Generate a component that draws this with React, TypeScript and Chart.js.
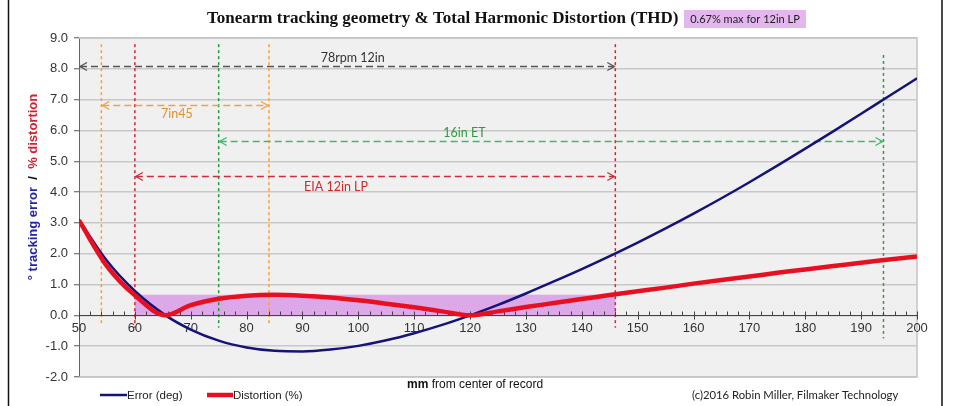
import React, { useEffect, useRef } from 'react';
import { Chart, registerables } from 'chart.js';

Chart.register(...registerables);

// ---- data ----
const radiusMm = [50, 55, 60, 65.5, 70, 75, 80, 85, 90, 95, 100, 105, 110, 115, 120, 125, 130, 135, 140, 145, 150, 155, 160, 165, 170, 175, 180, 185, 190, 195, 200];
const errorDeg = [3.1, 1.77, 0.79, 0, -0.46, -0.82, -1.04, -1.15, -1.17, -1.11, -0.99, -0.81, -0.58, -0.31, 0, 0.34, 0.71, 1.1, 1.5, 1.92, 2.36, 2.82, 3.3, 3.8, 4.32, 4.86, 5.41, 5.97, 6.54, 7.12, 7.69];
const distortionPct = [3.08, 1.6, 0.65, 0, 0.33, 0.54, 0.64, 0.67, 0.64, 0.58, 0.49, 0.38, 0.26, 0.13, 0, 0.13, 0.27, 0.4, 0.53, 0.66, 0.78, 0.9, 1.03, 1.15, 1.26, 1.38, 1.49, 1.6, 1.71, 1.81, 1.91];

const xTickLabels = [50, 60, 70, 80, 90, 100, 110, 120, 130, 140, 150, 160, 170, 180, 190, 200];
const yMin = -2;
const yMax = 9;

const thdMaxPct = 0.67;
const lpStartMm = 60;
const lpEndMm = 146;

const rangeLabels = ['78rpm 12in', '7in45', '16in ET', 'EIA 12in LP'];
const rangeStartMm = [50, 54, 75, 60];
const rangeEndMm = [146, 84, 194, 146];
const rangeArrowLevel = [8.1, 6.82, 5.66, 4.52];

const markerMm = [54, 84, 60, 146, 75, 194];
const markerTop = [8.8, 8.8, 8.8, 8.8, 8.8, 8.45];
const markerBottom = [-0.35, -0.35, -0.4, -0.4, -0.4, -0.75];

// ---- styles ----
const SANS = '"Liberation Sans", Arial, sans-serif';
const LATO = 'Lato, "Open Sans", sans-serif';
const rangeArrowColor = ['#555555', '#f0a24a', '#3dba6a', '#c4303e'];
const rangeTextColor = ['#333333', '#e0902e', '#2f9a3e', '#d22a2a'];
const rangeLabelMm = [99, 67.5, 119, 96];
const rangeLabelDy = [-9, 8, -9, 10];
const markerColor = ['#f5a040', '#f5a040', '#c8283a', '#c8283a', '#22993a', '#2fa045'];

function arrowHead(ctx: CanvasRenderingContext2D, x: number, y: number, dir: number) {
  ctx.beginPath();
  ctx.moveTo(x - dir * 7, y - 4);
  ctx.lineTo(x, y);
  ctx.lineTo(x - dir * 7, y + 4);
  ctx.stroke();
}

const decorPlugin = {
  id: 'decor',
  beforeDraw(chart: any) {
    const { ctx, chartArea: a } = chart;
    ctx.save();
    ctx.fillStyle = '#ffffff';
    ctx.fillRect(0, 0, chart.width, chart.height);
    ctx.fillStyle = '#f0f0f0';
    ctx.fillRect(a.left, a.top, a.right - a.left, a.bottom - a.top);
    ctx.restore();
  },
  beforeDatasetsDraw(chart: any) {
    const { ctx, chartArea: a } = chart;
    const x = chart.scales.x;
    const y = chart.scales.y;
    ctx.save();
    // plot frame
    ctx.strokeStyle = '#c4c4c4';
    ctx.lineWidth = 1.5;
    ctx.beginPath();
    ctx.moveTo(a.left, a.top);
    ctx.lineTo(a.right, a.top);
    ctx.lineTo(a.right, a.bottom);
    ctx.lineTo(a.left, a.bottom);
    ctx.stroke();

    // LP distortion band
    const bx0 = x.getPixelForValue(lpStartMm);
    const bx1 = x.getPixelForValue(lpEndMm);
    const by0 = y.getPixelForValue(0);
    const by1 = y.getPixelForValue(thdMaxPct);
    ctx.fillStyle = '#dca8e8';
    ctx.fillRect(bx0, by1, bx1 - bx0, by0 - by1);

    // vertical markers
    ctx.lineWidth = 1.5;
    ctx.setLineDash([3, 3]);
    markerMm.forEach((m, i) => {
      const px = x.getPixelForValue(m);
      ctx.strokeStyle = markerColor[i];
      ctx.beginPath();
      ctx.moveTo(px, y.getPixelForValue(markerTop[i]));
      ctx.lineTo(px, y.getPixelForValue(markerBottom[i]));
      ctx.stroke();
    });

    // range arrows
    rangeLabels.forEach((label, i) => {
      const x0 = x.getPixelForValue(rangeStartMm[i]);
      const x1 = x.getPixelForValue(rangeEndMm[i]);
      const py = Math.round(y.getPixelForValue(rangeArrowLevel[i])) + 0.5;
      ctx.strokeStyle = rangeArrowColor[i];
      ctx.lineWidth = 1.3;
      ctx.setLineDash([7, 4]);
      ctx.beginPath();
      ctx.moveTo(x0 + 1, py);
      ctx.lineTo(x1 - 1, py);
      ctx.stroke();
      ctx.setLineDash([]);
      arrowHead(ctx, x0 + 1, py, -1);
      arrowHead(ctx, x1 - 1, py, 1);
      ctx.fillStyle = rangeTextColor[i];
      ctx.font = `12.5px ${LATO}`;
      ctx.textAlign = 'center';
      ctx.textBaseline = 'middle';
      ctx.fillText(label, x.getPixelForValue(rangeLabelMm[i]), py + rangeLabelDy[i]);
    });

    // x axis at y = 0 with ticks and labels
    const y0 = Math.round(y.getPixelForValue(0)) + 0.5;
    ctx.setLineDash([]);
    ctx.strokeStyle = '#444444';
    ctx.lineWidth = 1;
    ctx.beginPath();
    ctx.moveTo(a.left, y0);
    ctx.lineTo(a.right, y0);
    ctx.stroke();
    ctx.beginPath();
    for (let m = 50; m <= 200; m += 2) {
      const px = Math.round(x.getPixelForValue(m)) + 0.5;
      const major = m % 10 === 0;
      ctx.moveTo(px, y0 - 4);
      ctx.lineTo(px, y0 + (major ? 4 : 0));
    }
    ctx.stroke();
    ctx.fillStyle = '#333333';
    ctx.font = `13px ${SANS}`;
    ctx.textAlign = 'center';
    ctx.textBaseline = 'middle';
    xTickLabels.forEach((v) => {
      ctx.fillText(String(v), x.getPixelForValue(v), y0 + 13);
    });
    ctx.restore();
  },
  afterDraw(chart: any) {
    const { ctx } = chart;
    ctx.save();
    // title
    ctx.fillStyle = '#111111';
    ctx.font = 'bold 17px "Liberation Serif", "Times New Roman", serif';
    ctx.textAlign = 'left';
    ctx.textBaseline = 'middle';
    ctx.fillText('Tonearm tracking geometry & Total Harmonic Distortion (THD)', 207, 19);
    // badge
    ctx.fillStyle = '#e4b6ee';
    ctx.fillRect(684, 10, 122, 18);
    ctx.fillStyle = '#222222';
    ctx.font = `11px ${LATO}`;
    ctx.textAlign = 'center';
    ctx.fillText('0.67% max for 12in LP', 745, 19.5);

    // y title (multi-coloured, rotated)
    ctx.save();
    ctx.translate(33, 187);
    ctx.rotate(-Math.PI / 2);
    ctx.font = `bold 13px ${SANS}`;
    ctx.textAlign = 'left';
    ctx.textBaseline = 'middle';
    const parts: [string, string][] = [
      ['° tracking error', '#2424a8'],
      ['  /  ', '#111111'],
      ['% distortion', '#d4202e'],
    ];
    const total = parts.reduce((s, p) => s + ctx.measureText(p[0]).width, 0);
    let cx = -total / 2;
    parts.forEach(([t, c]) => {
      ctx.fillStyle = c;
      ctx.fillText(t, cx, 0);
      cx += ctx.measureText(t).width;
    });
    ctx.restore();

    // x title
    ctx.textBaseline = 'middle';
    ctx.textAlign = 'left';
    ctx.fillStyle = '#111111';
    ctx.font = `bold 12px ${SANS}`;
    const mmW = ctx.measureText('mm').width;
    ctx.fillText('mm', 407, 385);
    ctx.font = `12px ${SANS}`;
    ctx.fillText(' from center of record', 407 + mmW, 385);

    // legend
    ctx.lineCap = 'butt';
    ctx.strokeStyle = '#141478';
    ctx.lineWidth = 2.5;
    ctx.beginPath();
    ctx.moveTo(100, 395);
    ctx.lineTo(127, 395);
    ctx.stroke();
    ctx.strokeStyle = '#e81020';
    ctx.lineWidth = 4.5;
    ctx.beginPath();
    ctx.moveTo(207, 395);
    ctx.lineTo(233, 395);
    ctx.stroke();
    ctx.fillStyle = '#222222';
    ctx.font = `11.5px ${SANS}`;
    ctx.fillText('Error (deg)', 127, 395.5);
    ctx.fillText('Distortion (%)', 233, 395.5);

    // credit
    ctx.font = `11.3px ${LATO}`;
    ctx.fillStyle = '#222222';
    ctx.fillText('(c)2016 Robin Miller, Filmaker Technology', 692, 395);

    // outer frame lines
    ctx.strokeStyle = '#111111';
    ctx.lineWidth = 1.5;
    ctx.beginPath();
    ctx.moveTo(8.5, 0);
    ctx.lineTo(8.5, chart.height);
    ctx.moveTo(942, 0);
    ctx.lineTo(942, chart.height);
    ctx.stroke();
    ctx.restore();
  },
};

export default function App() {
  const canvasRef = useRef<HTMLCanvasElement>(null);

  useEffect(() => {
    if (!canvasRef.current) return;
    const chart = new Chart(canvasRef.current, {
      type: 'line',
      data: {
        datasets: [
          {
            label: 'Distortion (%)',
            data: radiusMm.map((r, i) => ({ x: r, y: distortionPct[i] })),
            borderColor: '#e81020',
            borderWidth: 4.5,
            pointRadius: 0,
            cubicInterpolationMode: 'monotone',
            order: 0,
          },
          {
            label: 'Error (deg)',
            data: radiusMm.map((r, i) => ({ x: r, y: errorDeg[i] })),
            borderColor: '#141478',
            borderWidth: 2.5,
            pointRadius: 0,
            cubicInterpolationMode: 'monotone',
            order: 1,
          },
        ],
      },
      options: {
        animation: false,
        responsive: false,
        events: [],
        layout: { padding: { left: 0, top: 38, right: 39, bottom: 29 } },
        plugins: { legend: { display: false }, tooltip: { enabled: false }, title: { display: false } },
        scales: {
          x: { type: 'linear', min: 50, max: 200, display: false },
          y: {
            type: 'linear',
            min: yMin,
            max: yMax,
            afterFit: (s: any) => {
              s.width = 79;
            },
            ticks: {
              stepSize: 1,
              callback: (v: any) => Number(v).toFixed(1),
              color: '#333333',
              font: { family: SANS, size: 13 },
              padding: 6,
            },
            grid: { color: '#c8c8c8', lineWidth: 1.5, tickColor: '#555555', tickLength: 5, tickWidth: 1 },
            border: { color: '#666666', width: 1 },
          },
        },
      },
      plugins: [decorPlugin],
    } as any);
    return () => chart.destroy();
  }, []);

  return (
    <div style={{ position: 'fixed', left: 0, top: 0, width: 956, height: 406, background: '#ffffff' }}>
      <canvas ref={canvasRef} width={956} height={406} style={{ display: 'block', width: 956, height: 406 }} />
    </div>
  );
}
